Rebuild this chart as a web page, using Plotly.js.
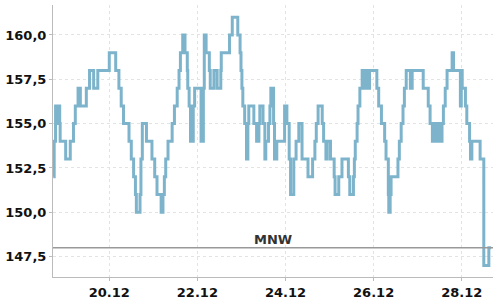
<!DOCTYPE html>
<html>
<head>
<meta charset="utf-8">
<script src="https://cdn.plot.ly/plotly-3.0.1.min.js"></script>
<style>html,body{margin:0;padding:0;background:#fff}#chart{width:500px;height:300px}</style>
</head>
<body>
<div id="chart"></div>
<script>
const times = [
"2023-12-18 17:30","2023-12-18 18:00","2023-12-18 18:45","2023-12-18 20:00","2023-12-18 20:30","2023-12-18 21:00","2023-12-18 21:15",
"2023-12-19 00:15","2023-12-19 02:45","2023-12-19 04:30","2023-12-19 05:30","2023-12-19 07:00","2023-12-19 08:15","2023-12-19 11:30",
"2023-12-19 13:15","2023-12-19 15:30","2023-12-19 17:45",
"2023-12-20 00:00","2023-12-20 03:30","2023-12-20 05:15","2023-12-20 06:30","2023-12-20 07:45","2023-12-20 10:45","2023-12-20 12:00",
"2023-12-20 13:15","2023-12-20 14:15","2023-12-20 14:45","2023-12-20 16:45","2023-12-20 17:15","2023-12-20 18:00","2023-12-20 20:15",
"2023-12-20 23:15",
"2023-12-21 00:45","2023-12-21 02:00","2023-12-21 04:15","2023-12-21 05:15","2023-12-21 06:00","2023-12-21 06:45","2023-12-21 08:00",
"2023-12-21 10:15","2023-12-21 11:30","2023-12-21 13:00","2023-12-21 14:00","2023-12-21 14:45","2023-12-21 16:00","2023-12-21 17:15",
"2023-12-21 18:30","2023-12-21 18:45","2023-12-21 19:30","2023-12-21 20:15","2023-12-21 21:45","2023-12-21 22:30",
"2023-12-22 02:00","2023-12-22 03:15","2023-12-22 03:45","2023-12-22 04:45","2023-12-22 06:30","2023-12-22 07:00","2023-12-22 09:00",
"2023-12-22 10:45","2023-12-22 12:45","2023-12-22 13:00","2023-12-22 17:30","2023-12-22 19:00","2023-12-22 22:00","2023-12-22 23:15",
"2023-12-22 23:45",
"2023-12-23 00:15","2023-12-23 00:45","2023-12-23 01:45","2023-12-23 02:45","2023-12-23 03:30","2023-12-23 04:00","2023-12-23 06:45",
"2023-12-23 08:15","2023-12-23 09:30","2023-12-23 10:00","2023-12-23 11:45","2023-12-23 12:45","2023-12-23 13:15","2023-12-23 14:45",
"2023-12-23 15:30","2023-12-23 16:00","2023-12-23 17:30","2023-12-23 18:00","2023-12-23 19:15","2023-12-23 23:30",
"2023-12-24 00:45","2023-12-24 02:00","2023-12-24 02:45","2023-12-24 04:30","2023-12-24 05:45","2023-12-24 07:15","2023-12-24 09:00",
"2023-12-24 12:15","2023-12-24 14:45","2023-12-24 16:00","2023-12-24 16:45","2023-12-24 17:45","2023-12-24 20:00","2023-12-24 20:45",
"2023-12-24 22:00","2023-12-24 22:45",
"2023-12-25 00:30","2023-12-25 02:30","2023-12-25 03:00","2023-12-25 05:00","2023-12-25 06:45","2023-12-25 10:15","2023-12-25 11:00",
"2023-12-25 13:00","2023-12-25 13:30","2023-12-25 14:00","2023-12-25 15:00","2023-12-25 15:30","2023-12-25 16:30","2023-12-25 17:45",
"2023-12-25 19:00","2023-12-25 20:00","2023-12-25 20:30","2023-12-25 21:45",
"2023-12-26 01:45","2023-12-26 02:45","2023-12-26 04:15","2023-12-26 06:00","2023-12-26 06:45","2023-12-26 08:00","2023-12-26 08:15",
"2023-12-26 09:00","2023-12-26 09:30","2023-12-26 13:15","2023-12-26 14:00","2023-12-26 15:00","2023-12-26 16:00","2023-12-26 16:45",
"2023-12-26 17:45","2023-12-26 20:00","2023-12-26 21:00",
"2023-12-27 03:00","2023-12-27 05:45","2023-12-27 06:45","2023-12-27 08:00","2023-12-27 09:30","2023-12-27 10:00","2023-12-27 11:15",
"2023-12-27 11:45","2023-12-27 13:15","2023-12-27 14:00","2023-12-27 15:00","2023-12-27 16:00","2023-12-27 18:45","2023-12-27 19:30",
"2023-12-27 23:15","2023-12-27 23:45",
"2023-12-28 00:15","2023-12-28 02:00","2023-12-28 02:45","2023-12-28 04:15","2023-12-28 04:45","2023-12-28 05:30","2023-12-28 10:00",
"2023-12-28 12:00","2023-12-28 14:45","2023-12-28 16:00"
];
const levels = [
152,154,156,155,156,155,154,
153,154,155,156,157,156,157,
158,157,158,
159,158,157,156,155,154,153,
152,151,150,151,153,155,154,
153,
152,151,150,151,152,153,154,
155,156,157,158,159,160,159,
158,157,156,154,156,157,
154,157,160,159,158,157,158,
157,158,159,160,161,160,159,
158,
157,156,155,153,155,156,155,
154,155,156,155,153,154,155,
156,157,155,153,154,156,
155,153,151,153,154,155,153,
152,153,154,155,156,155,154,
153,154,
153,152,151,152,153,152,151,
152,153,154,155,156,157,158,
157,158,157,158,
157,156,155,154,153,151,150,
151,152,153,154,155,156,157,
158,157,158,
157,156,155,154,155,154,155,
154,155,156,157,158,159,158,
156,158,
157,156,155,154,153,154,153,
147,148,148
];
const mnw = 148;
const mnwLabel = "MNW";
const xRange = ["2023-12-18 17:21", "2023-12-28 17:01"];
const yRange = [146.35, 161.69];

const fontFam = "DejaVu Sans, sans-serif";
const data = [{
  type: "scatter",
  mode: "lines",
  x: times,
  y: levels,
  line: {shape: "hv", color: "#7db4cc", width: 3},
  hoverinfo: "skip"
}];
const layout = {
  width: 500, height: 300,
  margin: {l: 53, r: 7, t: 5, b: 23},
  paper_bgcolor: "#fff", plot_bgcolor: "#fff",
  showlegend: false,
  xaxis: {
    type: "date", range: xRange,
    tick0: "2023-12-20", dtick: 2*86400000, tickformat: "%d.%m",
    showgrid: true, gridcolor: "#e3e3e3", griddash: "3px,3px", gridwidth: 1,
    showline: true, linecolor: "#bbbbbb", linewidth: 1,
    ticks: "outside", ticklen: 3, tickcolor: "#bbbbbb",
    tickfont: {family: fontFam, size: 13, color: "#111", weight: "bold"},
    zeroline: false, fixedrange: true
  },
  yaxis: {
    range: yRange, tick0: 147.5, dtick: 2.5, tickformat: ".1f",
    showgrid: true, gridcolor: "#e3e3e3", griddash: "3px,3px", gridwidth: 1,
    showline: true, linecolor: "#bbbbbb", linewidth: 1,
    ticks: "outside", ticklen: 3, tickcolor: "#bbbbbb",
    tickfont: {family: fontFam, size: 13, color: "#111", weight: "bold"},
    zeroline: false, fixedrange: true
  },
  separators: ",.",
  shapes: [{
    type: "line", xref: "paper", x0: 0, x1: 1, yref: "y", y0: mnw, y1: mnw,
    line: {color: "#999999", width: 1.5}, layer: "above"
  }],
  annotations: [{
    text: mnwLabel, xref: "paper", x: 0.5, yref: "y", y: mnw,
    yanchor: "bottom", xanchor: "center", showarrow: false, yshift: -1,
    font: {family: fontFam, size: 13, color: "#333", weight: "bold"}
  }]
};
Plotly.newPlot("chart", data, layout, {displayModeBar: false, staticPlot: true});
</script>
</body>
</html>
